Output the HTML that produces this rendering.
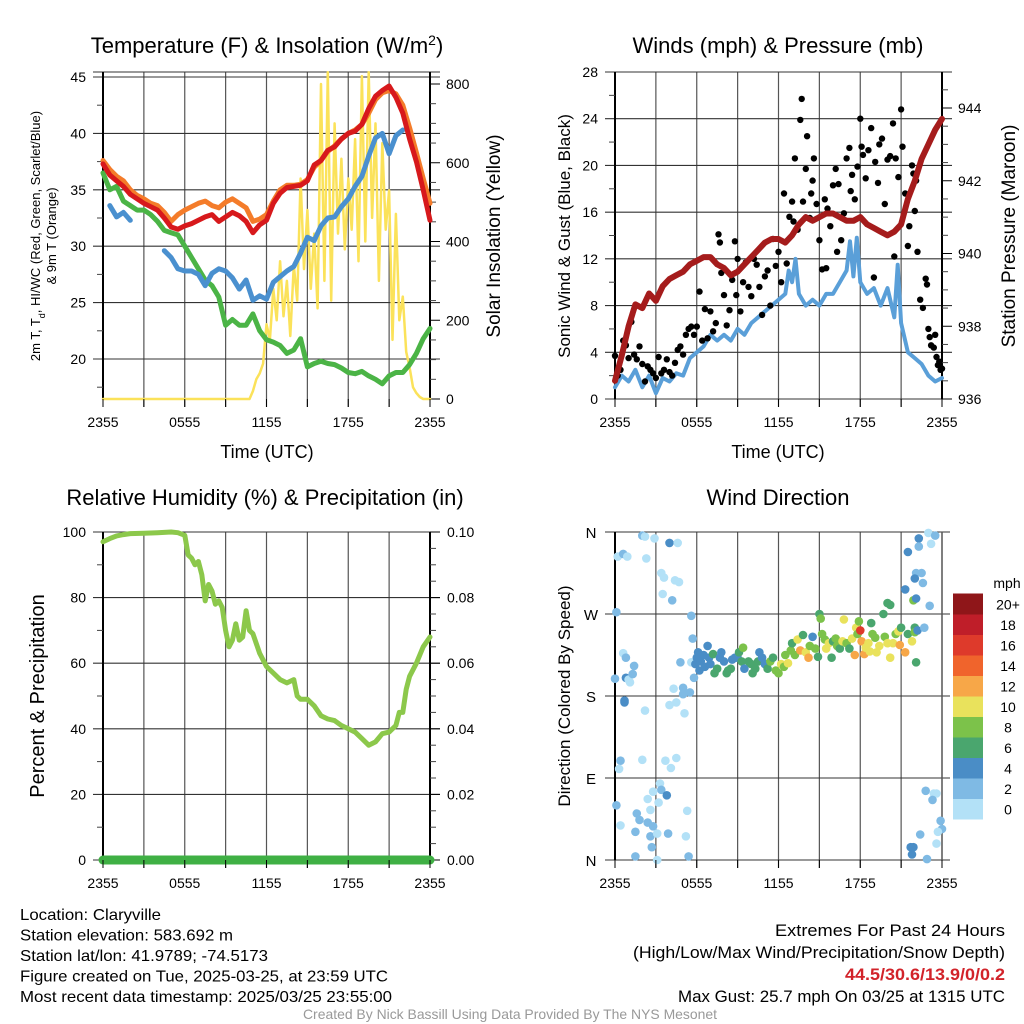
<!DOCTYPE html>
<html><head><meta charset="utf-8"><style>
html,body{margin:0;padding:0;background:#fff;}
svg{display:block;font-family:"Liberation Sans",sans-serif;}
</style></head><body>
<svg id="c" width="1024" height="1024" viewBox="0 0 1024 1024"></svg>
<script>
// ---------- DATA ----------
const halfHours=[0,0.5,1,1.5,2,2.5,3,3.5,4,4.5,5,5.5,6,6.5,7,7.5,8,8.5,9,9.5,10,10.5,11,11.5,12,12.5,13,13.5,14,14.5,15,15.5,16,16.5,17,17.5,18,18.5,19,19.5,20,20.5,21,21.5,22,22.5,23,23.5,24];
const temp2m=[37.3,36.3,35.8,35.3,34.6,34.2,33.8,33.5,33.2,32.5,31.7,31.5,31.8,32.0,32.3,32.6,32.8,32.2,32.6,33.0,32.7,32.2,31.2,31.9,32.3,33.8,34.7,35.2,35.3,35.4,35.8,37.2,37.6,38.5,38.8,39.5,40.0,40.2,40.8,42.2,43.3,43.8,44.2,43.2,41.8,39.5,37.5,35.0,32.3];
const temp9m=[37.6,36.8,36.2,35.8,35.0,34.5,34.2,33.8,33.6,33.0,32.2,32.8,33.2,33.5,33.8,34.0,33.6,33.4,33.9,34.2,33.8,33.4,32.2,32.4,32.8,34.0,35.0,35.4,35.4,35.5,35.9,37.0,37.6,38.4,38.9,39.5,40.0,40.3,40.8,41.8,43.0,43.6,43.8,43.5,42.5,40.5,38.3,36.0,33.8];
const dewpoint=[36.5,35.0,35.3,34.0,33.6,33.2,33.2,32.8,32.2,31.4,31.2,31.0,30.0,29.0,28.0,27.0,26.5,25.5,23.0,23.5,23.0,23.0,24.0,22.5,21.7,21.5,21.2,20.5,20.8,21.8,19.3,19.6,19.8,19.6,19.5,19.2,18.8,18.7,18.9,18.5,18.2,17.8,18.5,18.8,18.8,19.5,20.5,21.8,22.7];
const windChill=[null,33.6,32.6,33.0,32.3,null,null,null,null,29.6,29.0,28.0,27.8,27.8,27.5,26.5,27.6,28.0,27.8,27.2,26.2,27.0,25.2,25.6,25.3,26.8,27.3,27.8,28.2,29.4,30.8,30.5,31.8,32.5,32.6,33.5,34.2,35.3,36.2,38.0,39.6,40.0,38.2,39.8,40.3,null,null,null,null];
const solarHours=[0,10.75,11,11.25,11.5,11.75,12,12.25,12.5,12.75,13,13.25,13.5,13.75,14,14.25,14.5,14.75,15,15.25,15.5,15.75,16,16.25,16.5,16.75,17,17.25,17.5,17.75,18,18.25,18.5,18.75,19,19.25,19.5,19.75,20,20.25,20.5,20.75,21,21.25,21.5,21.75,22,22.25,22.5,22.75,23,23.25,23.5,24];
const solarValues=[0,0,20,50,65,90,190,150,280,200,350,210,300,160,340,250,560,330,480,280,420,230,800,300,830,250,700,420,610,380,560,430,660,350,820,400,830,460,700,300,650,430,530,150,470,200,260,120,80,30,15,5,0,0];
const rhHours=[0,0.5,1,1.5,2,3,4,5,5.5,6,6.25,6.5,6.75,7,7.25,7.5,7.75,8,8.25,8.5,8.75,9,9.25,9.5,9.75,10,10.25,10.5,10.75,11,11.5,12,12.5,13,13.5,14,14.25,14.5,15,15.5,16,16.5,17,17.5,18,18.5,19,19.5,20,20.5,21,21.5,21.75,22,22.25,22.5,23,23.5,24];
const rhValues=[97,98,98.8,99.2,99.5,99.6,99.8,100,99.8,99,93,92,90,91,87,79,84,82,78,79,77,70,65,67,72,67,68,76,70,69,63,59,57,55,54,55,50,49,49,47,44,43,42.5,41,40,39,37,35,36,38.5,39,41,45,45,52,56,60,65,68];
const precipHours=[0,24];
const precipValues=[0,0];
const pressure=[936.5,937.2,938.0,938.6,938.5,938.9,938.7,939.1,939.3,939.4,939.5,939.7,939.8,939.9,939.9,939.7,939.6,939.4,939.5,939.7,939.9,940.1,940.3,940.4,940.4,940.3,940.5,940.8,941.0,940.9,941.0,941.1,941.1,941.0,940.9,940.9,941.0,940.8,940.7,940.6,940.5,940.6,940.8,941.5,942.0,942.6,943.0,943.4,943.7];
const windHours=[0,0.5,1,1.5,2,2.5,3,3.5,4,4.5,5,5.5,6,6.5,7,7.5,8,8.5,9,9.5,10,10.5,11,11.5,12,12.5,12.75,13,13.25,13.5,14,14.5,15,15.5,16,16.5,17,17.25,17.5,17.75,18,18.5,19,19.5,20,20.5,20.75,21,21.5,22,22.5,23,23.5,24];
const windSpeed=[1,2,1.5,2.5,1,2,0.5,1.8,1.5,2.2,2,3.5,4,4.5,5.5,5,5.5,5,6,5.5,6.5,7,7.5,8,8.5,9,11,10,12,9,8,8.5,8,9,9,10,11,13.5,10.5,13.8,10,9,9.5,8,9.5,7,11.5,6.5,4,3.5,3,2,1.5,1.8];
const gustHours=[0,0.2,0.4,0.6,0.8,1.0,1.2,1.4,1.6,1.8,2.0,2.2,2.4,2.6,2.8,3.0,3.2,3.4,3.6,3.8,4.0,4.2,4.4,4.6,4.8,5.0,5.2,5.4,5.6,5.8,6.0,6.2,6.4,6.6,6.8,7.0,7.2,7.4,7.6,7.7,7.8,8.0,8.2,8.4,8.6,8.8,8.9,9.0,9.2,9.4,9.6,9.8,10.0,10.2,10.4,10.6,10.8,11,11.2,11.4,11.6,11.8,12,12.2,12.4,12.6,12.8,13.0,13.1,13.2,13.4,13.6,13.7,13.8,14.0,14.1,14.3,14.4,14.5,14.6,14.8,15.0,15.2,15.4,15.5,15.6,15.8,16.0,16.2,16.3,16.4,16.6,16.8,17.0,17.2,17.3,17.4,17.6,17.8,18.0,18.1,18.2,18.4,18.6,18.8,19.0,19.1,19.3,19.4,19.6,19.8,20.0,20.2,20.4,20.5,20.6,20.8,21.0,21.1,21.3,21.5,21.6,21.8,21.9,22.0,22.1,22.2,22.4,22.6,22.8,22.9,23.0,23.1,23.2,23.4,23.5,23.6,23.7,23.8,23.9,24];
const gustValues=[3.7,2,2.5,5,4.6,3.5,6.6,3.8,3.4,4.5,3,1.5,2.8,2.5,2.2,1.8,3.6,2.2,2.5,3.4,2.3,2.0,3.1,4.2,4.5,3.8,5.5,6.0,6.2,5.5,6.2,9.2,5.0,7.7,5.2,7.5,5.8,6.5,14.1,13.4,10.8,8.9,6.3,7.6,10.2,13.5,8.9,12.0,7.5,10,11.7,9.6,8.8,12,11.5,9.6,7.2,10.5,11,8,13.7,11.4,12.6,10,17.6,11.6,15.6,16.9,15.2,20.6,14.5,23.9,25.7,16.9,19.7,22.5,15.5,17.6,18.7,20.6,16.7,13.6,11.1,17.1,11.2,16.3,14.8,18.3,19.7,12.6,18.4,13.6,15.9,20.6,21.5,17.8,19.2,17.1,19.9,24.0,21.6,20.9,18.9,21.3,23.2,10.4,20.3,18.5,21.8,22.3,16.7,20.5,20.8,23.6,12.2,20.6,19.0,24.8,21.6,17.6,13.1,14.8,20.0,19.3,16.1,18.7,12.6,8.5,7.8,10.3,9.8,6.0,5.3,4.6,4.4,5.5,3.6,2.9,3.2,2.5,2.6];
const dirHours=[0,0.1,0.2,0.6,0.9,0.6,0.8,0.8,1.0,1.1,0.7,1.4,1.3,2.0,2.2,2.9,4.0,4.6,2.3,3.4,3.6,4.4,4.7,3.5,4.2,5.6,5.7,4.8,5.6,5.8,4.3,5.0,5.5,5.0,2.2,4.0,4.5,5.1,0.7,0.4,0.3,2.0,3.7,4.1,4.5,3.3,3.4,3.8,2.8,2.4,3.2,2.6,0.1,1.6,1.8,0.4,2.4,2.8,1.5,3.9,2.6,3.1,5.2,2.7,1.5,3.1,5.4,5.3,
5.9,6.0,6.1,6.2,6.3,6.5,6.6,6.8,6.9,7.0,7.2,7.3,7.5,7.7,7.8,8.0,8.2,8.3,8.5,8.6,8.8,9.0,9.1,9.3,9.4,9.5,9.8,10.0,10.1,10.3,10.5,10.6,10.8,11.0,11.2,11.4,11.6,11.8,12.0,12.2,12.4,12.5,12.7,12.9,13.0,13.2,13.4,13.6,13.8,14.0,14.2,14.3,14.5,14.7,14.9,15.0,15.1,15.2,15.4,15.5,15.7,15.9,16.0,16.2,16.3,16.5,16.7,16.8,17.0,17.2,17.4,17.6,17.7,17.8,17.9,18.0,18.1,18.3,18.4,18.6,18.7,18.8,18.9,19.1,19.2,19.4,19.7,19.8,20.0,20.2,20.4,20.6,20.8,20.9,21.0,21.3,21.5,21.8,22.0,22.0,22.1,21.9,21.3,20.2,20.0,22.2,
21.5,22.3,22.3,23.0,23.5,23.2,22.1,22.5,22.0,22.6,22.1,23.1,22.7,22.8,23.4,23.6,23.3,23.9,24.0,23.7,22.4,23.6,21.7,21.9,21.8,22.9];
const dirDegrees=[199,272,333,336,333,227,222,200,198,195,173,213,204,356,355,353,348,348,331,315,310,307,305,292,285,268,243,217,217,200,188,189,184,182,164,170,173,161,175,109,100,110,109,101,112,84,77,71,75,67,63,55,60,51,44,38,41,37,31,29,26,29,26,14,4,0,4,54,
215,222,228,208,218,225,212,235,222,215,226,205,210,222,228,218,205,208,210,220,222,222,228,218,233,210,218,215,205,210,218,228,222,215,210,218,222,208,205,215,212,225,216,230,238,225,242,230,247,228,222,235,245,232,223,270,265,248,242,232,238,222,240,243,235,232,240,264,238,232,243,225,255,248,262,252,240,226,233,238,229,260,248,244,228,235,270,245,238,222,238,248,251,236,255,228,248,240,255,250,217,285,297,280,282,252,
338,353,344,359,356,347,315,315,309,304,287,279,255,76,73,73,66,43,34,31,28,18,14,14,6,1];
const dirSpeed=[2,2,0,2,0,0,2,4,0,0,4,2,2,2,0,0,4,0,0,0,0,0,0,0,2,2,2,2,0,2,0,2,2,2,0,0,0,0,4,2,0,0,0,0,0,0,2,4,0,0,0,0,2,2,2,0,2,2,2,2,2,0,0,2,2,0,2,0,
4,4,4,4,4,4,4,4,4,4,6,6,6,4,4,4,6,6,6,4,4,4,6,6,8,4,6,6,6,6,6,4,4,4,6,8,6,8,8,10,8,8,10,8,6,8,10,12,6,10,12,8,4,8,6,6,8,8,8,10,10,6,6,8,8,6,10,10,8,6,10,12,10,8,8,16,12,12,10,10,10,6,8,8,10,10,6,8,10,10,10,8,10,12,6,12,6,10,6,8,6,8,4,6,6,4,
4,4,2,0,2,0,2,2,4,2,4,2,2,2,0,0,2,2,2,0,2,0,4,4,4,2];
const speedBins=["0","2","4","6","8","10","12","14","16","18","20+"];
const binColors=["#b3e1f7","#7fbae4","#4a8dc6","#4aa66e","#7cc24a","#e9e25c","#f7a748","#f0642c","#de3a2b","#bf1e29","#8f1619"];
const xTickLabels=["2355","0555","1155","1755","2355"];
const tempTicks=[20,25,30,35,40,45];
const solarTicks=[0,200,400,600,800];
const windTicks=[0,4,8,12,16,20,24,28];
const pressTicks=[936,938,940,942,944];
const rhTicks=[0,20,40,60,80,100];
const precipTicks=["0.00","0.02","0.04","0.06","0.08","0.10"];
const dirLabels=["N","E","S","W","N"];

// ---------- HELPERS ----------
const svg=document.getElementById('c');
const NS='http://www.w3.org/2000/svg';
function mk(tag,attrs,name,parent){
  const e=document.createElementNS(NS,tag);
  for(const k in attrs)e.setAttribute(k,attrs[k]);
  
  
  (parent||svg).appendChild(e);return e;
}
function txt(x,y,s,size,name,opts){
  opts=opts||{};
  const a={x:x,y:y,'font-size':size,fill:opts.fill||'#000','text-anchor':opts.anchor||'middle'};
  if(opts.rot)a.transform='rotate(-90 '+x+' '+y+')';
  if(opts.weight)a['font-weight']=opts.weight;
  if(opts.len){a.textLength=opts.len;a.lengthAdjust='spacingAndGlyphs';}
  const t=mk('text',a,name);t.textContent=s;return t;
}
function pathOf(hs,vs,xf,yf){
  let d='',pen=false;
  for(let i=0;i<hs.length;i++){
    if(vs[i]===null||vs[i]===undefined){pen=false;continue;}
    d+=(pen?'L':'M')+xf(hs[i]).toFixed(1)+','+yf(vs[i]).toFixed(1);pen=true;
  }
  return d;
}
function line(hs,vs,xf,yf,color,w,name){
  mk('path',{d:pathOf(hs,vs,xf,yf),fill:'none',stroke:color,'stroke-width':w,'stroke-linejoin':'round','stroke-linecap':'round'},name);
}
function frame(x0,x1,y0,y1,name){
  for(let h=3;h<24;h+=3){
    const x=x0+h*(x1-x0)/24;
    mk('line',{x1:x,y1:y0,x2:x,y2:y1+8,stroke:'#555','stroke-width':1.2},name+'-vgrid');
  }
}
const X1=t=>103+t*13.625;
const X2=t=>615+t*13.625;
const yT=v=>77+(45-v)*11.28;
const yS=v=>399-v*(315/800);
const yW=v=>399-v*(327/28);
const yP=v=>399-(v-936)*36.375;
const yR=v=>860-v*3.28;
const yD=d=>860-d*(328/360);

function xaxis(X,yb,name){
  for(let h=0;h<=24;h+=3){mk('line',{x1:X(h),y1:yb,x2:X(h),y2:yb+8,stroke:'#000','stroke-width':1},name+'-tick');}
  xTickLabels.forEach((s,i)=>txt(X(i*6),yb+28,s,14,name+'-label'));
}
function panelGrid(X,ytop,ybot,hy,name){
  frame(X(0),X(24),ytop,ybot,name);
  hy.forEach(y=>mk('line',{x1:X(0)-10,y1:y,x2:X(24)+10,y2:y,stroke:'#333','stroke-width':1.1},name+'-hgrid'));
  mk('line',{x1:X(0),y1:ytop,x2:X(0),y2:ybot,stroke:'#000','stroke-width':2},name+'-left-axis');
  mk('line',{x1:X(24),y1:ytop,x2:X(24),y2:ybot,stroke:'#000','stroke-width':2},name+'-right-axis');
}
function minor(X,vals,yf,side,name){
  vals.forEach(v=>{const y=yf(v);const x=side<0?X(0):X(24);mk('line',{x1:x,y1:y,x2:x+side*6,y2:y,stroke:'#444','stroke-width':1},name);});
}
// ---------- PANEL 1 ----------
panelGrid(X1,72,399,tempTicks.map(yT).concat([72]),'temp-panel');
minor(X1,[17.5,22.5,27.5,32.5,37.5,42.5],yT,-1,'temp-minor-tick');
minor(X1,[50,100,150,250,300,350,450,500,550,650,700,750],yS,1,'solar-minor-tick');
solarTicks.forEach(v=>mk('line',{x1:X1(24),y1:yS(v),x2:X1(24)+10,y2:yS(v),stroke:'#000'},'solar-tick'));
line(solarHours,solarValues,X1,yS,'#fbe25a',2.5,'solar-insolation-line');
line(halfHours,dewpoint,X1,yT,'#4bb446',5,'dewpoint-line');
line(halfHours,windChill,X1,yT,'#4a90cf',5,'wind-chill-line');
line(halfHours,temp9m,X1,yT,'#f47c2a',5,'temp-9m-line');
line(halfHours,temp2m,X1,yT,'#d7191c',5,'temp-2m-line');
tempTicks.forEach(v=>txt(86,yT(v)+5,String(v),14,'temp-tick-label',{anchor:'end'}));
solarTicks.forEach(v=>txt(446,yS(v)+5,String(v),14,'solar-tick-label',{anchor:'start'}));
xaxis(X1,399,'temp-x');
txt(267,458,'Time (UTC)',18,'temp-x-title');
{const t=txt(267,53,'Temperature (F) & Insolation (W/m',22,'temp-title');
 const s=document.createElementNS(NS,'tspan');s.setAttribute('baseline-shift','super');s.setAttribute('font-size','14');s.textContent='2';t.appendChild(s);
 const s2=document.createElementNS(NS,'tspan');s2.textContent=')';t.appendChild(s2);}
{const t=txt(40,236,'2m T, T',13,'temp-y-title',{rot:true});
 const s=document.createElementNS(NS,'tspan');s.setAttribute('baseline-shift','sub');s.setAttribute('font-size','9');s.textContent='d';t.appendChild(s);
 const s2=document.createElementNS(NS,'tspan');s2.textContent=', HI/WC (Red, Green, Scarlet/Blue)';t.appendChild(s2);}
txt(56,236,'& 9m T (Orange)',13,'temp-y-title-line2',{rot:true});
txt(500,236,'Solar Insolation (Yellow)',19,'solar-y-title',{rot:true});

// ---------- PANEL 2 ----------
panelGrid(X2,72,399,windTicks.map(yW),'wind-panel');
minor(X2,[2,6,10,14,18,22,26],yW,-1,'wind-minor-tick');
minor(X2,[936.5,937,937.5,938.5,939,939.5,940.5,941,941.5,942.5,943,943.5,944.5],yP,1,'pressure-minor-tick');
pressTicks.forEach(v=>mk('line',{x1:X2(24),y1:yP(v),x2:X2(24)+10,y2:yP(v),stroke:'#000'},'pressure-tick'));
line(windHours,windSpeed,X2,yW,'#5a9fd8',4,'sonic-wind-line');
gustHours.forEach((h,i)=>{
  mk('circle',{cx:X2(h).toFixed(1),cy:yW(gustValues[i]).toFixed(1),r:3.2,fill:'#000'},'gust-dot');
});
line(halfHours,pressure,X2,yP,'#a51c1c',6,'pressure-line');
windTicks.forEach(v=>txt(598,yW(v)+5,String(v),14,'wind-tick-label',{anchor:'end'}));
pressTicks.forEach(v=>txt(958,yP(v)+5,String(v),14,'pressure-tick-label',{anchor:'start'}));
xaxis(X2,399,'wind-x');
txt(778,458,'Time (UTC)',18,'wind-x-title');
txt(778,53,'Winds (mph) & Pressure (mb)',22,'wind-title');
txt(570,236,'Sonic Wind & Gust (Blue, Black)',17,'wind-y-title',{rot:true});
txt(1015,236,'Station Pressure (Maroon)',19,'pressure-y-title',{rot:true});

// ---------- PANEL 3 ----------
panelGrid(X1,532,860,rhTicks.map(yR),'rh-panel');
minor(X1,[10,30,50,70,90],yR,-1,'rh-minor-tick');
minor(X1,[5,10,15,25,30,35,45,50,55,65,70,75,85,90,95],yR,1,'precip-minor-tick');
rhTicks.forEach(v=>mk('line',{x1:X1(24),y1:yR(v),x2:X1(24)+10,y2:yR(v),stroke:'#000'},'precip-tick'));
line(rhHours,rhValues,X1,yR,'#8cc84b',5,'rh-line');
line(precipHours,precipValues.map(v=>v*1000),X1,yR,'#3fb044',9,'precip-line');
rhTicks.forEach(v=>txt(86,yR(v)+5,String(v),14,'rh-tick-label',{anchor:'end'}));
precipTicks.forEach((s,i)=>txt(447,yR(i*20)+5,s,14,'precip-tick-label',{anchor:'start'}));
xaxis(X1,860,'rh-x');
txt(265,505,'Relative Humidity (%) & Precipitation (in)',22,'rh-title');
txt(44,696,'Percent & Precipitation',20,'rh-y-title',{rot:true});

// ---------- PANEL 4 ----------
frame(X2(0),X2(24),532,860,'dir-panel');
[0,90,180,270,360].forEach(d=>mk('line',{x1:605,y1:yD(d),x2:950,y2:yD(d),stroke:'#333','stroke-width':1.1},'dir-hgrid'));
mk('line',{x1:X2(0),y1:532,x2:X2(0),y2:860,stroke:'#000','stroke-width':2},'dir-left-axis');
mk('line',{x1:X2(24),y1:532,x2:X2(24),y2:860,stroke:'#555','stroke-width':1.5},'dir-right-line');
dirHours.forEach((h,i)=>{
  mk('circle',{cx:X2(h).toFixed(1),cy:yD(dirDegrees[i]).toFixed(1),r:4.3,fill:binColors[Math.round(dirSpeed[i]/2)]},'direction-dot');
});
dirLabels.forEach((s,i)=>txt(591,yD(i*90)+6,s,15,'dir-tick-label'));
xaxis(X2,860,'dir-x');
txt(778,505,'Wind Direction',22,'dir-title');
txt(570,696,'Direction (Colored By Speed)',17,'dir-y-title',{rot:true});
txt(1007,588,'mph',14,'colorbar-title');
speedBins.forEach((s,i)=>{
  const y=819-(i+1)*20.5;
  mk('rect',{x:953,y:y.toFixed(1),width:30,height:21,fill:binColors[i]},'colorbar-swatch');
  txt(1008,y+16,s,14,'colorbar-label');
});

// ---------- FOOTER ----------
const leftLines=["Location: Claryville","Station elevation: 583.692 m","Station lat/lon: 41.9789; -74.5173","Figure created on Tue, 2025-03-25, at 23:59 UTC","Most recent data timestamp: 2025/03/25 23:55:00"];
const leftLens=[141,213,248,368,372];
leftLines.forEach((s,i)=>txt(20,920+i*20.5,s,16,'footer-info-line',{anchor:'start',len:leftLens[i]}));
txt(1005,936,'Extremes For Past 24 Hours',16.5,'extremes-title',{anchor:'end',len:230});
txt(1005,958,'(High/Low/Max Wind/Precipitation/Snow Depth)',16.5,'extremes-subtitle',{anchor:'end',len:372});
txt(1005,980,'44.5/30.6/13.9/0/0.2',16.5,'extremes-values',{anchor:'end',fill:'#d2232a',weight:'bold',len:160});
txt(1005,1002,'Max Gust: 25.7 mph On 03/25 at 1315 UTC',16.5,'max-gust',{anchor:'end',len:327});
txt(510,1019,'Created By Nick Bassill Using Data Provided By The NYS Mesonet',14,'credit',{fill:'#999',len:414});
</script>
</body></html>
